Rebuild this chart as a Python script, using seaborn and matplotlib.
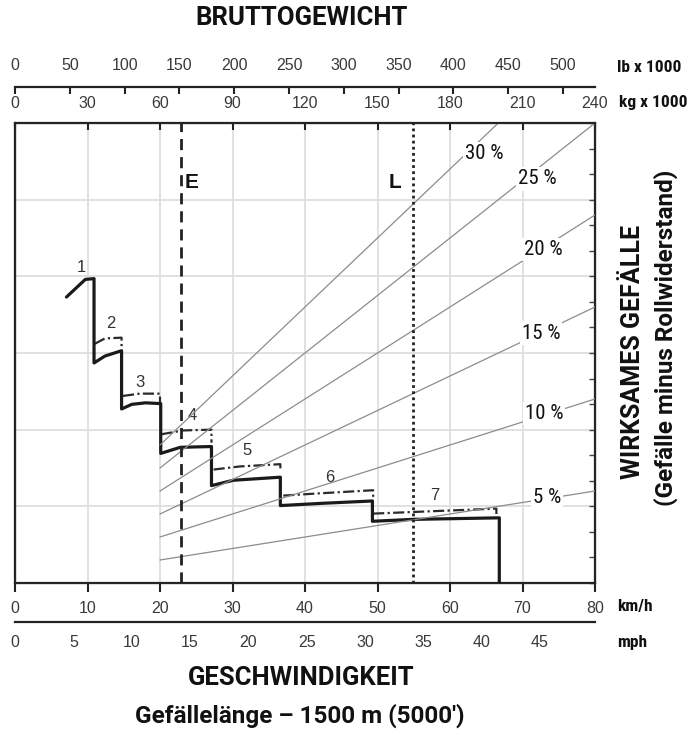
import matplotlib
matplotlib.use('Agg')
import matplotlib.pyplot as plt
import numpy as np
import pandas as pd
import seaborn as sns
from matplotlib import font_manager

# retarder curve: speed (km/h) vs. retarding force (t)
solid_kmh = [7.1, 9.7, 10.9, 10.9, 12.4, 14.7, 14.7, 16.1, 18.0, 20.1, 20.1, 22.8, 27.1,
             27.1, 30.1, 36.6, 36.6, 42.5, 49.3, 49.3, 54.9, 66.8, 66.8]
solid_force = [37.3, 39.6, 39.7, 28.7, 29.6, 30.3, 22.7, 23.3, 23.5, 23.4, 16.9, 17.7, 17.8,
               12.7, 13.4, 13.8, 10.1, 10.4, 10.7, 8.05, 8.3, 8.5, 0.0]

# dash-dot curves per gear (2..7)
dash_gears = [2, 3, 4, 5, 6, 7]
dash_kmh = [[11.0, 12.4, 14.7, 14.7], [14.9, 17.2, 20.0, 20.0], [20.2, 23.2, 27.1, 27.1],
            [27.4, 31.0, 36.6, 36.6], [37.0, 42.1, 49.4, 49.4], [49.4, 57.2, 66.4, 66.4]]
dash_force = [[31.2, 31.9, 32.0, 30.5], [24.4, 24.7, 24.7, 23.4], [19.4, 19.9, 20.0, 18.3],
              [14.8, 15.2, 15.5, 14.8], [11.4, 11.7, 12.1, 11.0], [9.05, 9.35, 9.7, 9.0]]

# gear labels
gear_names = ['1', '2', '3', '4', '5', '6', '7']
gear_kmh = [9.1, 13.2, 17.3, 24.5, 32.0, 43.4, 57.9]
gear_force = [41.1, 33.9, 26.1, 21.8, 17.3, 13.8, 11.4]

# effective grade lines (force = grade * weight)
grades = [5, 10, 15, 20, 25, 30]
grade_kg_range = [60, 240]
grade_label_kg = [220.1, 218.9, 217.7, 218.5, 216.0, 194.0]
grade_label_force = [11.2, 22.1, 32.6, 43.5, 52.7, 56.0]

# empty / loaded weight (kg x 1000)
empty_kg = 68.6
loaded_kg = 164.5

kmh_ticks = list(range(0, 81, 10))
kg_ticks = list(range(0, 241, 30))
lb_ticks = list(range(0, 501, 50))
mph_ticks = list(range(0, 46, 5))

sns.set_style('white')
names = {f.name for f in font_manager.fontManager.ttflist}
narrow = 'Roboto Condensed' if 'Roboto Condensed' in names else 'DejaVu Sans'
plt.rcParams['font.family'] = [narrow, 'DejaVu Sans']
NUM = ['Liberation Sans', 'DejaVu Sans']
HEAD = ['Roboto', 'DejaVu Sans']

W, H = 687, 732
fig = plt.figure(figsize=(W / 100, H / 100), dpi=100)


def fx(x):
    return x / W


def fy(y):
    return 1 - y / H


ax = fig.add_axes([fx(15), fy(583), fx(580), 460 / H])
ax.set_xlim(0, 80)
ax.set_ylim(0, 60)
ax.set_xticks(kmh_ticks)
ax.set_yticks(range(0, 61, 10))
ax.set_yticks(np.arange(0, 60, 10 / 3), minor=True)
ax.grid(True, which='major', color='#dedede', lw=1.3)
ax.set_axisbelow(True)
for s in ax.spines.values():
    s.set_color('#222')
    s.set_linewidth(1.6)
ax.tick_params(axis='x', direction='out', length=6.5, width=1.5, color='#222', pad=6.5,
               labelsize=11.5, labelcolor='#3a3a3a', labelfontfamily=NUM[0], top=False)
ax.tick_params(axis='y', which='both', left=False, right=True, labelleft=False,
               direction='in', length=4, width=1, color='#444')

# grade lines on weight axis
ax_kg = ax.twiny()
ax_kg.set_xlim(0, 240)
ax_kg.set_ylim(0, 60)
rows = []
for g in grades:
    for kg in grade_kg_range:
        rows.append({'grade': g, 'kg': kg, 'force': g / 100 * kg})
grade_df = pd.DataFrame(rows)
sns.lineplot(data=grade_df, x='kg', y='force', units='grade', estimator=None,
             color='#8c8c8c', lw=0.9, ax=ax_kg, legend=False)
for g, kx, ky in zip(grades, grade_label_kg, grade_label_force):
    ax_kg.text(kx, ky, f'{g} %', ha='center', va='center', fontsize=15, color='#111',
               bbox=dict(facecolor='white', edgecolor='none', pad=1.5))
ax_kg.axvline(empty_kg, color='#222', lw=2, ls=(0, (4, 2.5)))
ax_kg.axvline(loaded_kg, color='#222', lw=2, ls=(0, (1, 1.2)))
ax_kg.text(empty_kg + 4.6, 52.3, 'E', ha='center', va='center', fontsize=15,
           fontweight='bold', color='#111', family=NUM)
ax_kg.text(loaded_kg - 7.3, 52.3, 'L', ha='center', va='center', fontsize=15,
           fontweight='bold', color='#111', family=NUM)
ax_kg.set_xticks(kg_ticks)
ax_kg.tick_params(axis='x', direction='in', length=5, width=1.5, color='#222', pad=9,
                  labelsize=11.5, labelcolor='#3a3a3a', labelfontfamily=NUM[0])
ax_kg.set_xlabel('')
ax_kg.set_ylabel('')
ax_kg.grid(False)

# retarder curves
solid_df = pd.DataFrame({'kmh': solid_kmh, 'force': solid_force})
sns.lineplot(data=solid_df, x='kmh', y='force', sort=False, estimator=None,
             color='#1a1a1a', lw=2.3, ax=ax, legend=False, zorder=5)
drows = []
for g, xs, ys in zip(dash_gears, dash_kmh, dash_force):
    for i, (xv, yv) in enumerate(zip(xs, ys)):
        drows.append({'gear': g, 'i': i, 'kmh': xv, 'force': yv})
dash_df = pd.DataFrame(drows)
sns.lineplot(data=dash_df, x='kmh', y='force', units='gear', estimator=None, sort=False,
             color='#2a2a2a', lw=1.6, ls=(0, (5, 1.5, 1, 1.5)), ax=ax, legend=False, zorder=4)
for n, xv, yv in zip(gear_names, gear_kmh, gear_force):
    ax.text(xv, yv, n, ha='center', va='center', fontsize=12, color='#333', family=NUM)
ax.set_xlabel('')
ax.set_ylabel('')

# lb axis above
ax_lb = fig.add_axes([fx(15), fy(87), fx(580), 0.0005])
ax_lb.set_xlim(0, 240 / 0.45359237)
ax_lb.set_xticks(lb_ticks)
ax_lb.set_yticks([])
ax_lb.patch.set_visible(False)
for k in ['top', 'left', 'right']:
    ax_lb.spines[k].set_visible(False)
ax_lb.spines['bottom'].set_color('#222')
ax_lb.spines['bottom'].set_linewidth(1.6)
ax_lb.tick_params(axis='x', direction='out', length=5, width=1.5, color='#222',
                  bottom=True, top=False, labelbottom=False, labeltop=True, pad=4.5,
                  labelsize=11.5, labelcolor='#3a3a3a', labelfontfamily=NUM[0])

# mph axis below
ax_mph = fig.add_axes([fx(15), fy(622), fx(580), 0.0005])
ax_mph.set_xlim(0, 80 / 1.609344)
ax_mph.set_xticks(mph_ticks)
ax_mph.set_yticks([])
ax_mph.patch.set_visible(False)
for k in ['top', 'left', 'right']:
    ax_mph.spines[k].set_visible(False)
ax_mph.spines['bottom'].set_color('#222')
ax_mph.spines['bottom'].set_linewidth(1.6)
ax_mph.tick_params(axis='x', direction='out', length=4.5, width=1.5, color='#222', pad=5,
                   labelsize=11.5, labelcolor='#3a3a3a', labelfontfamily=NUM[0])

# unit labels and titles
bold = dict(fontweight='bold', color='#111')
fig.text(fx(617), fy(67), 'lb x 1000', ha='left', va='center', fontsize=12.5, **bold)
fig.text(fx(619), fy(103), 'kg x 1000', ha='left', va='center', fontsize=12.5, **bold)
fig.text(fx(617), fy(607), 'km/h', ha='left', va='center', fontsize=12.5, **bold)
fig.text(fx(617), fy(642), 'mph', ha='left', va='center', fontsize=12.5, **bold)
fig.text(fx(302), fy(18), 'BRUTTOGEWICHT', ha='center', va='center', fontsize=18.5,
         family=HEAD, **bold)
fig.text(fx(301), fy(678), 'GESCHWINDIGKEIT', ha='center', va='center', fontsize=18.5,
         family=HEAD, **bold)
fig.text(fx(300), fy(716), "Gefällelänge – 1500 m (5000')", ha='center', va='center',
         fontsize=17.5, family=HEAD, **bold)
fig.text(fx(633), fy(352), 'WIRKSAMES GEFÄLLE', ha='center', va='center', rotation=90,
         fontsize=18, family=HEAD, **bold)
fig.text(fx(666), fy(338), '(Gefälle minus Rollwiderstand)', ha='center', va='center',
         rotation=90, fontsize=17.5, family=HEAD, **bold)

fig.savefig('out.png', dpi=100)
